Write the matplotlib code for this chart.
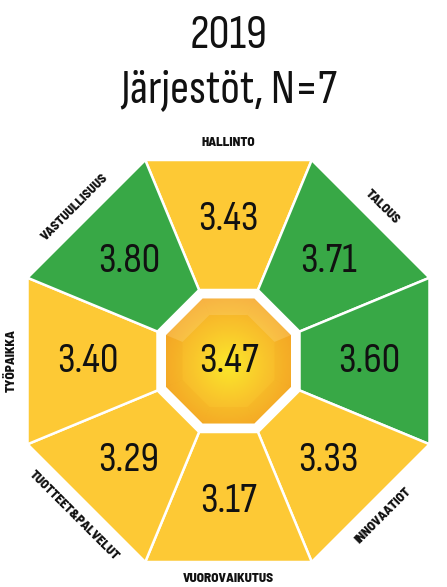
import numpy as np
import matplotlib.pyplot as plt
from matplotlib.patches import Polygon
from matplotlib.colors import LinearSegmentedColormap

num_font = ['Sofia Sans Condensed', 'Archivo Narrow', 'DejaVu Sans']
lab_font = ['Barlow Semi Condensed', 'Saira SemiCondensed', 'DejaVu Sans']
plt.rcParams['font.family'] = num_font

# data, clockwise from top
labels = ['HALLINTO', 'TALOUS', 'ASIAKAS', 'INNOVAATIOT', 'VUOROVAIKUTUS',
          'TUOTTEET&PALVELUT', 'TYÖPAIKKA', 'VASTUULLISUUS']
values = [3.43, 3.71, 3.60, 3.33, 3.17, 3.29, 3.40, 3.80]
total = 3.47
title_year = '2019'
title_group = 'Järjestöt, N=7'
limit = 3.5

green = '#38a846'
yellow = '#fdc935'

W, H = 447, 587
fig = plt.figure(figsize=(W / 100, H / 100), dpi=100)
ax = fig.add_axes([0, 0, 1, 1])
ax.set_xlim(0, W)
ax.set_ylim(H, 0)
ax.axis('off')

cx, cy = 228.5, 361
c8 = np.cos(np.radians(22.5))
r_out = 201 / c8
r_in = 71 / c8
r_mid = 62.5 / c8


def pt(r, ang):
    a = np.radians(ang)
    return cx + r * np.cos(a), cy - r * np.sin(a)


def octagon(r):
    return [pt(r, 22.5 + 45 * k) for k in range(8)]


for k, (lab, val) in enumerate(zip(labels, values)):
    th = 90 - 45 * k
    a0, a1 = th - 22.5, th + 22.5
    poly = [pt(r_out, a0), pt(r_out, a1), pt(r_in, a1), pt(r_in, a0)]
    col = green if val >= limit else yellow
    ax.add_patch(Polygon(poly, closed=True, facecolor=col, edgecolor='white',
                         linewidth=1.8, joinstyle='miter'))
    tx, ty = pt(141, th)
    ax.text(tx, ty, f'{val:.2f}', fontsize=30, ha='center', va='center',
            color='#111111')
    lx, ly = pt(218, th)
    thn = th % 360
    if thn == 0:
        rot = -90
        lx += 4
    elif thn <= 180:
        rot = thn - 90
    else:
        rot = thn + 90 - 360
    ax.text(lx, ly, lab, fontsize=9.5, fontweight=800, family=lab_font,
            ha='center', va='center', rotation=rot, rotation_mode='anchor',
            color='#111111')

# center gold octagon with radial gradient
gx = np.linspace(cx - r_mid, cx + r_mid, 200)
gy = np.linspace(cy - r_mid, cy + r_mid, 200)
X, Y = np.meshgrid(gx, gy)
D = np.hypot(X - cx, Y - cy - 4) / r_mid
cmap = LinearSegmentedColormap.from_list('gold', ['#fbe82a', '#f9c62c', '#f6a828'])
im = ax.imshow(D, cmap=cmap, vmin=0, vmax=1.05,
               extent=(gx[0], gx[-1], gy[-1], gy[0]), zorder=2)
clip = Polygon(octagon(r_mid), closed=True, facecolor='none', edgecolor='none')
ax.add_patch(clip)
im.set_clip_path(clip)

# bevel facets
r_f = 46 / c8
for k in range(8):
    th = 90 - 45 * k
    a0, a1 = th - 22.5, th + 22.5
    poly = [pt(r_mid, a0), pt(r_mid, a1), pt(r_f, a1), pt(r_f, a0)]
    if k in (0, 1, 7):
        fc, al = 'white', 0.13
    else:
        fc, al = '#e58a10', 0.10
    ax.add_patch(Polygon(poly, closed=True, facecolor=fc, alpha=al,
                         edgecolor='none', zorder=3))

ax.text(cx, cy, f'{total:.2f}', fontsize=30, ha='center', va='center',
        color='#111111', zorder=4)

ax.text(cx, 36, title_year, fontsize=34, ha='center', va='center', color='#111111')
ax.text(cx, 90, title_group, fontsize=34, ha='center', va='center', color='#111111')

fig.savefig('out.png', dpi=100)
